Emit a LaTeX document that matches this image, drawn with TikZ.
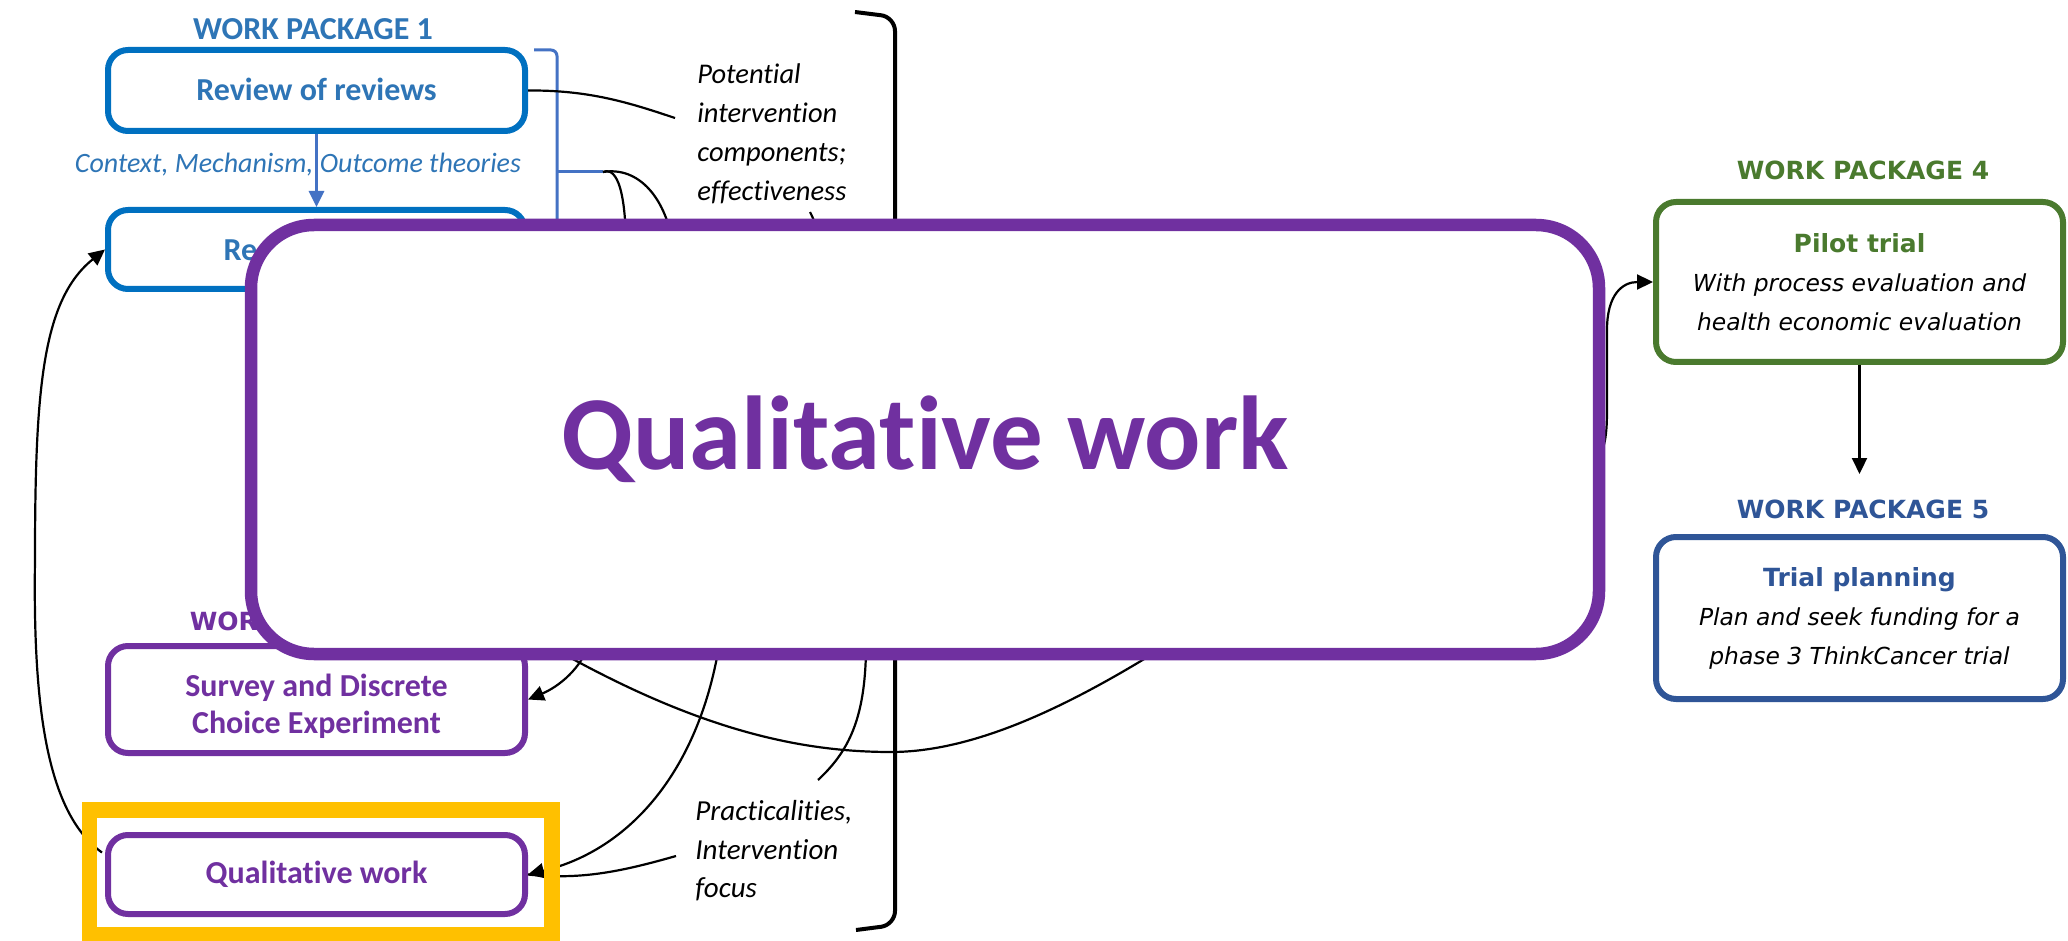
\documentclass[tikz,border=0pt]{standalone}
\usepackage{fontspec}
\newfontfamily\calfont[Ligatures=NoCommon]{Carlito}
\newfontfamily\verfont{DejaVu Sans}
\usetikzlibrary{arrows.meta,calc}
\definecolor{wpblue}{HTML}{0070C0}
\definecolor{wptext}{HTML}{2E75B6}
\definecolor{linkblue}{HTML}{4472C4}
\definecolor{wppurple}{HTML}{7030A0}
\definecolor{wpgreen}{HTML}{4A7A2E}
\definecolor{wpnavy}{HTML}{2F5597}
\definecolor{hiyellow}{HTML}{FFC000}
\tikzset{
  wpbox/.style={draw, rounded corners=10pt, line width=3pt, fill=white, inner sep=0pt, align=center},
  calbold/.style={font=\calfont\bfseries\fontsize{16}{20}\selectfont},
  wptitle/.style={font=\verfont\bfseries\fontsize{12.5}{15}\selectfont},
  verit/.style={font=\verfont\itshape\fontsize{11.7}{19.5}\selectfont},
  conn/.style={line width=1.1pt, black},
  tipped/.style={-{Triangle[length=8pt,width=7.5pt]}},
  caplabel/.style={anchor=north west, align=left, inner sep=0pt, font=\calfont\itshape\fontsize{14.25}{19.5}\selectfont}
}
\begin{document}
\begin{tikzpicture}[x=0.5pt,y=-0.5pt]
\useasboundingbox (0,0) rectangle (2068,941);
\fill[white] (0,0) rectangle (2068,941);

% ---------- Work package 1 ----------
\node[calbold, text=wptext] (wp1) at (313,29) {WORK PACKAGE 1};
\node[wpbox, calbold, draw=wpblue, text=wptext, minimum width=208.5pt, minimum height=40.5pt] (rev) at (316.5,90.5) {\raisebox{1.5pt}{Review of reviews}};
\node[wpbox, calbold, draw=wpblue, text=wptext, minimum width=208.5pt, minimum height=39.5pt] (real) at (316.5,249.5) {Realist review};
\draw[linkblue, line width=1.5pt, tipped] (rev.south) -- (real.north);
\node[text=wptext, font=\calfont\itshape\fontsize{14}{17}\selectfont] (ctx) at (298,165) {Context, Mechanism, Outcome theories};

% blue bracket
\coordinate (bb1) at (534,50);
\coordinate (bb2) at (557,50);
\coordinate (bb3) at (557,290);
\coordinate (bb4) at (534,290);
\coordinate (bbmid) at (557,172);
\coordinate (brtip) at (603,172);
\draw[linkblue, line width=1.5pt, rounded corners=3pt] (bb1) -- (bb2) -- (bb3) -- (bb4);
\draw[linkblue, line width=1.5pt] (bbmid) -- (brtip);

% labels
\node[caplabel] (pot) at (697,63) {Potential\\intervention\\components;\\effectiveness};
\node[caplabel, font=\calfont\itshape\fontsize{14.5}{19.25}\selectfont] (prac) at (695,800) {Practicalities,\\Intervention\\focus};

% black bracket
\coordinate (bk1) at (855,12);
\coordinate (bk2) at (895,17);
\coordinate (bk3) at (895,925);
\coordinate (bk4) at (856,930);
\draw[line width=2pt, rounded corners=7pt] (bk1) -- (bk2) -- (bk3) -- (bk4);

% ---------- Work package 2 ----------
\node[wptitle, text=wppurple] (wp2) at (316,621) {WORK PACKAGE 2};
\node[wpbox, draw=wppurple, minimum width=208.5pt, minimum height=53.5pt] (surv) at (316.5,699.5) {};
\node[align=center, text=wppurple, font=\calfont\bfseries\fontsize{16}{18.5}\selectfont] (survtxt) at (316.5,706) {Survey and Discrete\\Choice Experiment};
\node[wpbox, calbold, draw=wppurple, text=wppurple, minimum width=208.5pt, minimum height=39.5pt] (qual) at (316.5,874.5) {Qualitative work};

% ---------- Work packages 4 and 5 ----------
\node[wptitle, text=wpgreen] (wp4) at (1863,170) {WORK PACKAGE 4};
\node[wpbox, verit, draw=wpgreen, minimum width=203.5pt, minimum height=80pt] (pilot) at (1859.5,282)
  {{\upshape\bfseries\color{wpgreen}\fontsize{12.5}{19.5}\selectfont Pilot trial}\\With process evaluation and\\health economic evaluation};
\node[wptitle, text=wpnavy] (wp5) at (1863,509) {WORK PACKAGE 5};
\node[wpbox, verit, draw=wpnavy, minimum width=203.5pt, minimum height=81pt] (trial) at (1859.5,618)
  {{\upshape\bfseries\color{wpnavy}\fontsize{12.5}{19.5}\selectfont Trial planning}\\Plan and seek funding for a\\phase 3 ThinkCancer trial};

% ---------- connectors ----------
\coordinate (potin) at (675,118);
\draw[conn] (rev.east) .. controls (590,90) and (630,103) .. (potin);

\draw[conn, tipped] (brtip) .. controls (618,166) and (626,195) .. (626,250)
  -- (590,640) .. controls (583,668) and (558,687) .. (surv.east);
\draw[conn, tipped] (brtip) .. controls (640,166) and (665,200) .. (672,240)
  -- (720,640) .. controls (700,770) and (630,850) .. (qual.east);

\coordinate (pracin) at (676,856);
\draw[conn] (pracin) .. controls (620,872) and (580,880) .. (qual.east);

\coordinate (efftick) at (810,212);
\coordinate (pracup) at (818,780);
\draw[conn] (efftick) .. controls (835,260) and (868,450) .. (866,650) .. controls (865,720) and (848,752) .. (pracup);

\coordinate (uleft) at (560,652);
\coordinate (ubottom) at (891,752);
\coordinate (uright) at (1175,640);
\draw[conn] (uleft) .. controls (700,730) and (800,752) .. (ubottom) .. controls (980,752) and (1080,700) .. (uright);

\coordinate (pilsrc) at (1590,470);
\draw[conn, tipped] (pilsrc) .. controls (1604,455) and (1607,440) .. (1607,410) -- (1607,330)
  .. controls (1607,295) and (1622,282) .. (pilot.west);

\coordinate (p2t) at (1859.5,474);
\draw[conn, tipped] (pilot.south) -- (p2t);

\coordinate (qs) at ($(qual.west)+(-3,-22)$);
\draw[conn, tipped] (qs) .. controls (45,812) and (33,700) .. (35,560) .. controls (35,390) and (42,300) .. (real.west);

% ---------- highlight and overlay ----------
\node[draw=hiyellow, line width=7.75pt, minimum width=231.25pt, minimum height=62.25pt, inner sep=0pt] (hl) at (320.75,872.25) {};
\node[draw=wppurple, fill=white, line width=6.25pt, rounded corners=31.5pt, minimum width=674pt, minimum height=214.5pt, text=wppurple, font=\calfont\bfseries\fontsize{52.5}{60}\selectfont] (big) at (925,439.5) {\raisebox{-2.5pt}{Qualitative work}};
\end{tikzpicture}
\end{document}
